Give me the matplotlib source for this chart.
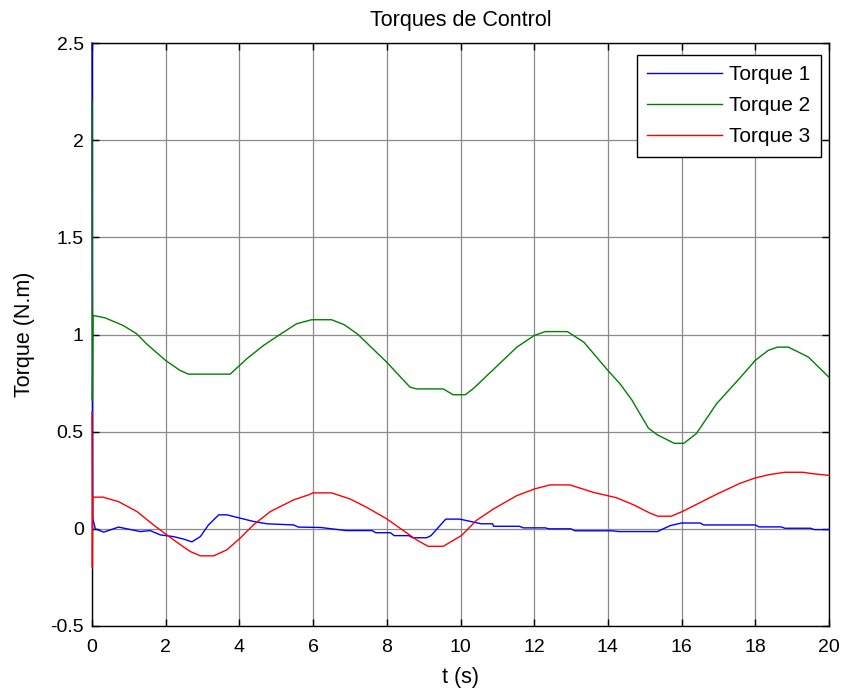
import matplotlib
matplotlib.use("Agg")
import matplotlib.pyplot as plt

plt.rcParams['font.family'] = ['Liberation Sans', 'DejaVu Sans']

# Torque 1
t1 = [0, 0.02, 0.09, 0.32, 0.72, 0.95, 1.31, 1.58, 1.85, 2.21,
      2.49, 2.71, 2.94, 3.16, 3.44, 3.66, 4.02, 4.38, 4.75, 5.47,
      5.6, 6.2, 6.9, 7.6, 7.7, 8.1, 8.2, 8.6, 8.7, 9.08,
      9.2, 9.6, 9.98, 10.25, 10.56, 10.87, 10.9, 11.6, 11.7, 12.3,
      12.4, 13.0, 13.1, 14.1, 14.3, 15.35, 15.5, 15.7, 16.0, 16.5,
      16.6, 18.0, 18.1, 18.7, 18.8, 19.5, 19.6, 20]
torque1 = [2.5, 0.055, 0.0, -0.017, 0.009, 0.0, -0.014, -0.009, -0.031, -0.04,
           -0.053, -0.067, -0.04, 0.02, 0.072, 0.072, 0.055, 0.038, 0.026, 0.02,
           0.009, 0.007, -0.009, -0.009, -0.02, -0.02, -0.035, -0.035, -0.046, -0.046,
           -0.035, 0.05, 0.05, 0.039, 0.026, 0.026, 0.013, 0.013, 0.005, 0.005,
           0.0, 0.0, -0.01, -0.01, -0.014, -0.014, 0.0, 0.017, 0.03, 0.03,
           0.02, 0.02, 0.01, 0.01, 0.003, 0.003, -0.004, -0.004]

# Torque 2
t2 = [0, 0.005, 0.01, 0.03, 0.35, 0.85, 1.21, 1.48, 2.0, 2.39,
      2.62, 3.75, 4.2, 4.65, 5.1, 5.55, 5.96, 6.5, 6.85, 7.22, 8.0,
      8.63, 8.81, 9.53, 9.8, 10.13, 10.35, 11.53, 12.0, 12.3, 12.9,
      13.35, 14.0, 14.33, 14.65, 15.1, 15.34, 15.8, 16.06, 16.4, 16.95,
      17.6, 18.0, 18.35, 18.6, 18.9, 19.44, 20]
torque2 = [2.2, 1.4, 0.66, 1.098, 1.086, 1.046, 1.004, 0.952, 0.866, 0.815,
           0.796, 0.796, 0.875, 0.943, 1.0, 1.055, 1.076, 1.076, 1.05, 1.0, 0.857,
           0.729, 0.72, 0.72, 0.69, 0.69, 0.722, 0.935, 0.995, 1.015, 1.015,
           0.96, 0.815, 0.746, 0.663, 0.518, 0.484, 0.44, 0.44, 0.49, 0.644,
           0.78, 0.867, 0.918, 0.935, 0.935, 0.884, 0.78]

# Torque 3
t3 = [0, 0.005, 0.01, 0.02, 0.3, 0.72, 1.22, 1.67, 2.03, 2.4,
      2.67, 2.94, 3.3, 3.66, 4.02, 4.38, 4.84, 5.47, 5.88, 6.0,
      6.5, 7.0, 7.45, 8.0, 8.45, 8.81, 9.12, 9.53, 9.8, 10.03,
      10.43, 10.9, 11.53, 12.02, 12.43, 12.97, 13.6, 14.23, 14.68, 15.13,
      15.35, 15.72, 16.03, 16.49, 16.94, 17.57, 18.0, 18.38, 18.8, 19.3,
      19.5, 20]
torque3 = [0.6, 0.2, -0.2, 0.163, 0.163, 0.14, 0.089, 0.02, -0.031, -0.082,
           -0.117, -0.139, -0.139, -0.108, -0.048, 0.02, 0.089, 0.149, 0.175, 0.185,
           0.185, 0.154, 0.111, 0.051, -0.009, -0.057, -0.09, -0.09, -0.06, -0.034,
           0.043, 0.103, 0.171, 0.206, 0.226, 0.226, 0.188, 0.16, 0.125, 0.082,
           0.065, 0.065, 0.09, 0.134, 0.177, 0.233, 0.262, 0.279, 0.291, 0.291,
           0.285, 0.275]

series_labels = ['Torque 1', 'Torque 2', 'Torque 3']
series_colors = ['#0000ff', '#008000', '#ff0000']

x_ticks = [0, 2, 4, 6, 8, 10, 12, 14, 16, 18, 20]
y_ticks = [-0.5, 0, 0.5, 1, 1.5, 2, 2.5]
y_tick_labels = ['-0.5', '0', '0.5', '1', '1.5', '2', '2.5']

fig = plt.figure(figsize=(8.46, 6.89), dpi=100)
ax = fig.add_axes([92 / 846, 63 / 689, 737 / 846, 583 / 689])

for t, v, lab, col in zip([t1, t2, t3], [torque1, torque2, torque3],
                          series_labels, series_colors):
    ax.plot(t, v, color=col, lw=1.0, label=lab, clip_on=False, zorder=3)

ax.set_xlim(0, 20)
ax.set_ylim(-0.5, 2.5)
ax.set_xticks(x_ticks)
ax.set_xticklabels([str(x) for x in x_ticks])
ax.set_yticks(y_ticks)
ax.set_yticklabels(y_tick_labels)

ax.grid(True, color='#8a8a8a', lw=0.9, ls='-')
ax.set_axisbelow(True)
ax.tick_params(direction='in', length=5, width=1, top=True, right=True,
               labelsize=14, color='black')
ax.tick_params(axis='x', pad=9.5)
ax.tick_params(axis='y', pad=6)
for sp in ax.spines.values():
    sp.set_color('black')
    sp.set_linewidth(1.0)

ax.set_title('Torques de Control', fontsize=15.5, pad=12)
ax.set_xlabel('t (s)', fontsize=15.5, labelpad=8)
ax.set_ylabel('Torque (N.m)', fontsize=15.5, labelpad=11)

leg = ax.legend(loc='upper right', bbox_to_anchor=(0.9891, 0.9794),
                fontsize=15, frameon=True, fancybox=False, framealpha=1,
                edgecolor='black', handlelength=3.6, handletextpad=0.35,
                labelspacing=0.57, borderpad=0.5, borderaxespad=0)
leg.get_frame().set_linewidth(1.0)
leg.set_zorder(5)

fig.savefig('out.png', dpi=100)
